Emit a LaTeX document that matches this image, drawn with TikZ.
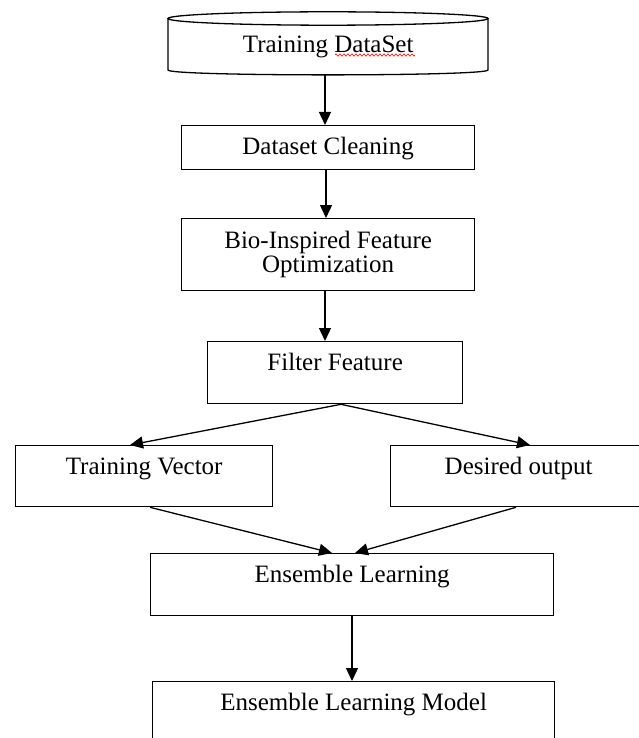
\documentclass[tikz,border=0pt]{standalone}
\usepackage{fontspec}
\setmainfont{Liberation Serif}
\usetikzlibrary{arrows.meta,decorations.pathmorphing}
\begin{document}
\begin{tikzpicture}[x=1pt,y=-1pt,
  every node/.style={font=\fontsize{25}{24}\selectfont},
  box/.style={draw, line width=1.3pt, inner xsep=0pt, inner ysep=12pt, text height=17pt, anchor=north west},
  conn/.style={line width=1.3pt, -{Triangle[length=13pt,width=12pt]}},
  plain/.style={line width=1.3pt},
  squiggle/.style={red, line width=0.6pt, decorate, decoration={zigzag, segment length=4pt, amplitude=1.1pt}}]
\useasboundingbox (0,0) rectangle (639,738);
\clip (0,0) rectangle (639,738);
\fill[white] (0,0) rectangle (639,738);

% cylinder (training dataset)
\node[inner sep=0pt, minimum width=320pt, text height=40pt, text depth=23pt, anchor=north west] (ds) at (168,12) {Training DataSet};
\draw[plain] (328,18.5) ellipse [x radius=160, y radius=6.7];
\draw[plain] (168,18.5) -- (168,70) .. controls (168,76.5) and (488,76.5) .. (488,70) -- (488,18.5);
\draw[squiggle] (335,55) -- (415,55);

% boxes
\node[box, minimum width=293pt, text depth=3pt] (clean) at (181,125) {Dataset Cleaning};
\node[draw, line width=1.3pt, inner xsep=0pt, minimum width=293pt, minimum height=72pt, align=center, anchor=north west] (bio) at (181,218) {Bio-Inspired Feature\\Optimization};
\node[box, minimum width=255pt, text depth=21pt] (filter) at (207,341) {Filter Feature};
\node[box, minimum width=257pt, text depth=20pt] (tv) at (15,445) {Training Vector};
\node[box, minimum width=256pt, text depth=20pt] (do) at (390,445) {Desired output};
\node[box, minimum width=403pt, text depth=21pt] (ens) at (150,553) {Ensemble Learning};
\node[box, minimum width=402pt, text depth=30pt] (model) at (152,681) {Ensemble Learning Model};

% connector x positions
\coordinate (a1) at (325,0);
\coordinate (a2) at (326,0);
\coordinate (a3) at (325,0);
\coordinate (a4) at (352,0);
\coordinate (f) at (341,0);
\coordinate (tvin) at (130,0);
\coordinate (doin) at (530,0);
\coordinate (tvout) at (150,0);
\coordinate (doout) at (516,0);
\coordinate (ensl) at (332,0);
\coordinate (ensr) at (355,0);

\draw[conn] (ds.south -| a1) -- (clean.north -| a1);
\draw[conn] (clean.south -| a2) -- (bio.north -| a2);
\draw[conn] (bio.south -| a3) -- (filter.north -| a3);
\draw[conn] (filter.south -| f) -- (tv.north -| tvin);
\draw[conn] (filter.south -| f) -- (do.north -| doin);
\draw[conn] (tv.south -| tvout) -- (ens.north -| ensl);
\draw[conn] (do.south -| doout) -- (ens.north -| ensr);
\draw[conn] (ens.south -| a4) -- (model.north -| a4);
\end{tikzpicture}
\end{document}
